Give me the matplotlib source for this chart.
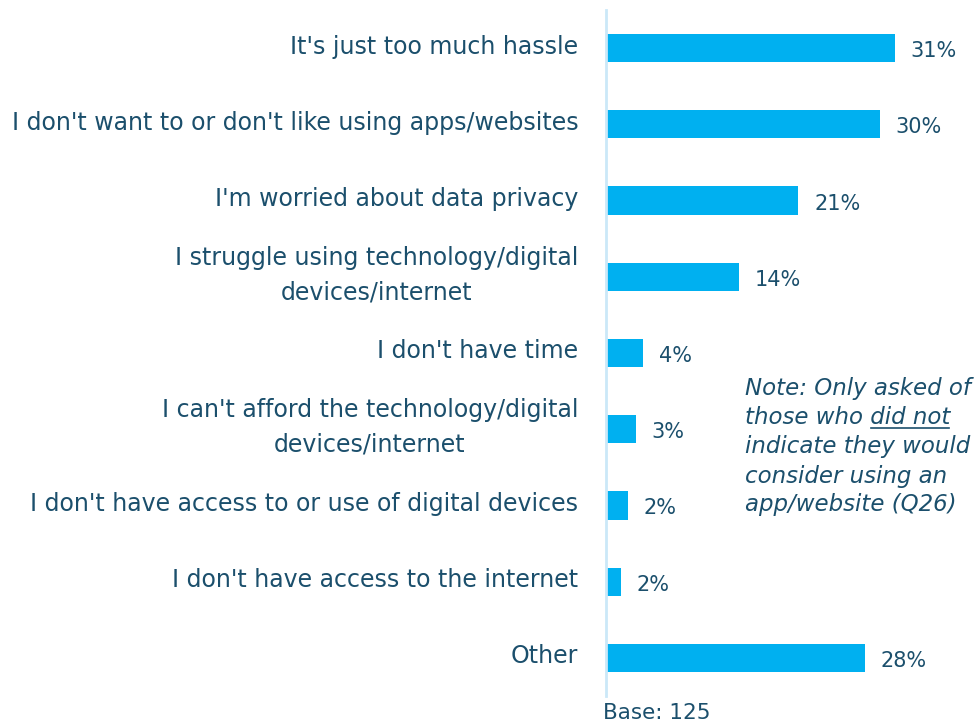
import numpy as np
import matplotlib.pyplot as plt
from matplotlib.lines import Line2D

plt.rcParams["font.family"] = ["DejaVu Sans"]

# Data (base 125 respondents)
labels = ["It's just too much hassle",
          "I don't want to or don't like using apps/websites",
          "I'm worried about data privacy",
          "I struggle using technology/digital\ndevices/internet",
          "I don't have time",
          "I can't afford the technology/digital\ndevices/internet",
          "I don't have access to or use of digital devices",
          "I don't have access to the internet",
          "Other"]
counts = [39, 37, 26, 18, 5, 4, 3, 2, 35]
base = 125
values = [100.0 * c / base for c in counts]

text_col = "#1B4F6C"
bar_col = "#00B0F0"
axis_col = "#CBE8F8"

W, H = 980, 725
fig = plt.figure(figsize=(W / 100, H / 100), dpi=100)
ax = fig.add_axes([606 / W, 1 - 696 / H, (W - 606) / W, 686 / H])

y = np.arange(len(labels))
ax.barh(y, values, height=0.37, color=bar_col, zorder=2)
ax.set_xlim(0, (W - 606) / 9.25)
ax.set_ylim(len(labels) - 0.5, -0.5)

for s in ["top", "right", "bottom"]:
    ax.spines[s].set_visible(False)
ax.spines["left"].set_color(axis_col)
ax.spines["left"].set_linewidth(2)
ax.set_xticks([])
ax.set_yticks([])

for yi, v, lab in zip(y, values, labels):
    ax.text(-3.0, yi - 0.02, lab, ha="right", va="center", multialignment="center",
            fontsize=17, color=text_col, linespacing=1.55)
    ax.text(v + 1.7, yi + 0.04, f"{round(v):d}%", ha="left", va="center",
            fontsize=15, color=text_col)

fig.text(603 / W, 1 - 713 / H, f"Base: {base}", ha="left", va="center",
         fontsize=15.5, color=text_col)

# Note text (italic, with "did not" underlined)
note_lines = ["Note: Only asked of",
              "those who did not",
              "indicate they would",
              "consider using an",
              "app/website (Q26)"]
nx = 745
ny0 = 389
dy = 29
renderer = fig.canvas.get_renderer()
for i, line in enumerate(note_lines):
    yy = 1 - (ny0 + i * dy) / H
    t = fig.text(nx / W, yy, line, ha="left", va="center", fontsize=16.5,
                 style="italic", color=text_col)
    if "did not" in line:
        bb = t.get_window_extent(renderer)
        tmp = fig.text(0, 0, "did not", fontsize=16.5, style="italic")
        wb = tmp.get_window_extent(renderer)
        tmp.remove()
        x1 = bb.x1 - 1
        x0 = x1 - wb.width + 2
        yline = bb.y0 + 1
        fig.add_artist(Line2D([x0 / W, x1 / W], [yline / H, yline / H],
                              transform=fig.transFigure, color=text_col,
                              linewidth=1.2))

fig.savefig("out.png", dpi=100)
